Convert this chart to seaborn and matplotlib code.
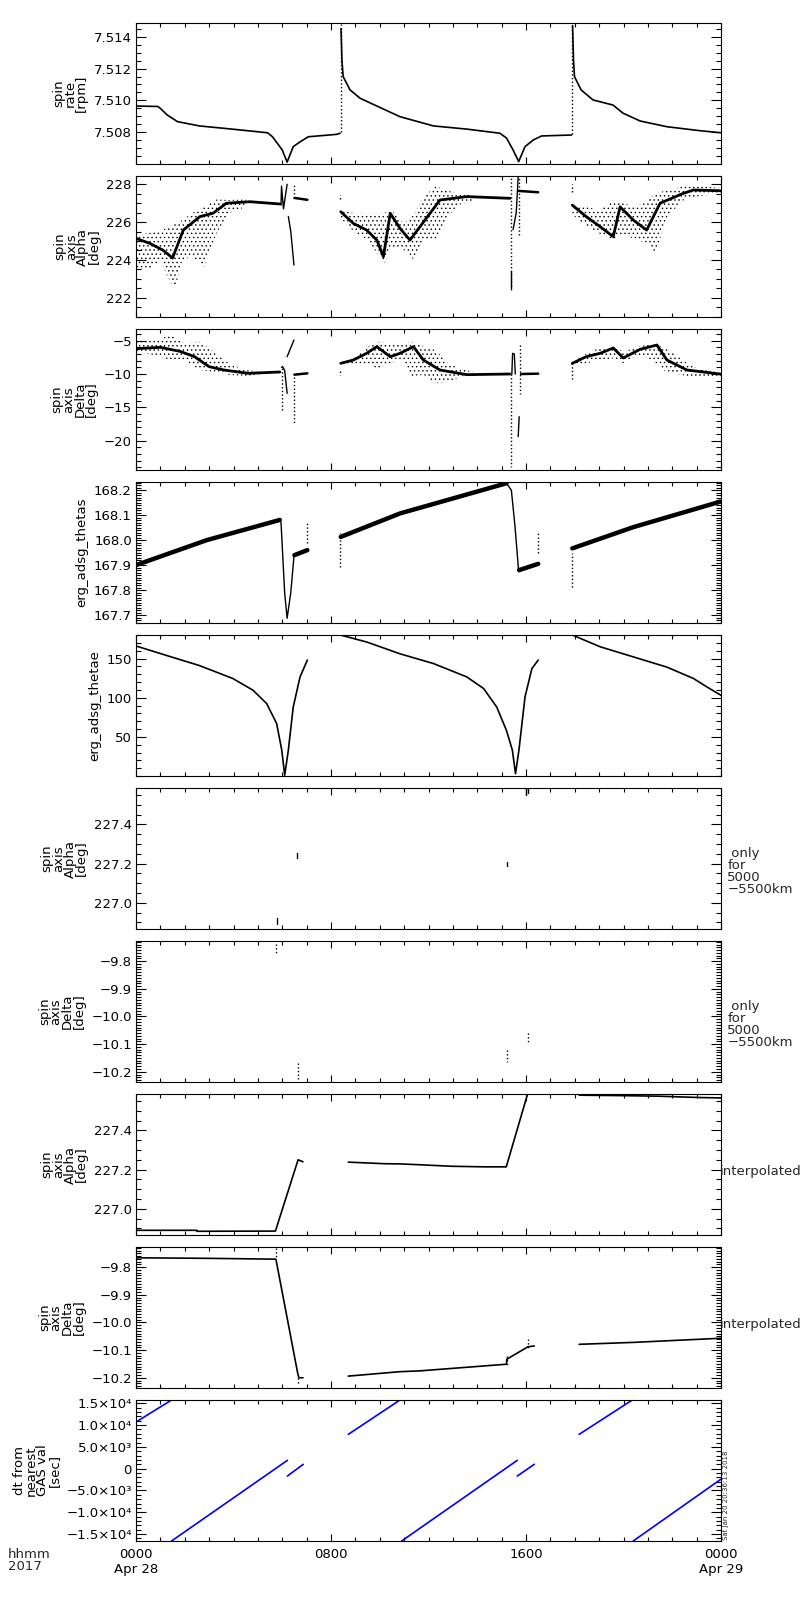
import numpy as np
import pandas as pd
import matplotlib
matplotlib.use("Agg")
import matplotlib.pyplot as plt
import matplotlib.ticker as mticker
import seaborn as sns

sns.set_theme(style="ticks")
plt.rcParams['font.family'] = ['DejaVu Sans']
plt.rcParams['axes.linewidth'] = 0.8
plt.rcParams['hatch.linewidth'] = 0.5

# ---------------- data (time in hours from 2017-04-28 00:00) ----------------
# Panel 1: spin rate [rpm]
rate_t1 = [0, 0.9, 1.0, 1.27, 1.7, 2.6, 4.0, 5.4, 5.6, 6.0, 6.2, 6.45, 6.73, 7.07, 8.23, 8.37]
rate_v1 = [7.50965, 7.50962, 7.5095, 7.5091, 7.50867, 7.5084, 7.50819, 7.50797, 7.50772, 7.50689,
           7.50613, 7.5071, 7.5074, 7.50772, 7.50787, 7.50794]
rate_t2 = [8.41, 8.45, 8.5, 8.78, 9.2, 9.88, 10.83, 12.2, 13.57, 14.93, 15.2, 15.47, 15.7,
           15.96, 16.3, 16.64, 17.46, 17.87]
rate_v2 = [7.5145, 7.5125, 7.51149, 7.51066, 7.51013, 7.50965, 7.50898, 7.5084, 7.5082,
           7.50794, 7.50764, 7.50689, 7.50616, 7.5071, 7.50752, 7.50777, 7.50781, 7.50783]
rate_t3 = [17.91, 17.95, 17.99, 18.26, 18.75, 19.57, 19.98, 20.68, 21.78, 23.14, 24.0]
rate_v3 = [7.5147, 7.5125, 7.51149, 7.51066, 7.51003, 7.50971, 7.5092, 7.50871, 7.50835,
           7.5081, 7.50797]
rate_spike_t = [8.39, 17.89]
rate_spike_lo = [7.5080, 7.5079]
rate_spike_hi = [7.5148, 7.5148]

# Panel 2: spin axis Alpha [deg]
alp_tA = [0, 0.56, 1.1, 1.5, 1.94, 2.62, 3.16, 3.71, 4.67, 5.9]
alp_vA = [225.14, 224.88, 224.52, 224.1, 225.58, 226.29, 226.47, 227.0, 227.08, 226.96]
alp_tB = [8.4, 8.92, 9.46, 9.88, 10.15, 10.43, 10.83, 11.24, 12.47, 13.57, 15.34]
alp_vB = [226.55, 225.93, 225.58, 225.05, 224.17, 226.47, 225.67, 225.05, 227.17, 227.35, 227.26]
alp_tC = [17.9, 18.47, 19.04, 19.58, 19.86, 20.4, 20.95, 21.5, 22.45, 22.87, 23.96]
alp_vC = [226.9, 226.29, 225.76, 225.23, 226.81, 226.11, 225.58, 227.0, 227.52, 227.7, 227.66]
alp_flat_t = [[6.5, 7.03], [15.7, 16.5]]
alp_flat_v = [[227.28, 227.18], [227.65, 227.58]]
alp_thin_t = [[5.95, 5.97, 6.05, 6.2], [6.25, 6.35, 6.48], [15.40, 15.40], [15.47, 15.6, 15.68]]
alp_thin_v = [[226.9, 227.9, 226.7, 228.0], [226.3, 225.5, 223.73], [222.5, 223.4], [225.6, 226.5, 228.4]]
alp_dot_t = [[6.48, 6.48], [8.38, 8.38], [15.40, 15.40], [15.72, 15.72], [17.87, 17.87]]
alp_dot_v = [[227.5, 228.05], [227.2, 227.45], [222.4, 228.4], [225.3, 228.4], [227.6, 228.0]]
# scatter clouds (envelopes)
alp_cA_t = [0, 0.5, 1.0, 1.3, 1.6, 1.9, 2.3, 2.8, 3.3, 3.8, 4.5]
alp_cA_hi = [225.35, 225.4, 225.58, 225.7, 225.9, 226.11, 226.47, 226.81, 227.2, 227.17, 227.2]
alp_cA_lo = [223.64, 223.47, 223.94, 223.1, 222.44, 224.0, 224.17, 223.64, 225.4, 226.47, 226.8]
alp_cB_t = [8.4, 9.0, 9.5, 10.0, 10.2, 10.5, 11.0, 11.4, 11.8, 12.3, 12.7, 13.2, 13.8]
alp_cB_hi = [226.6, 226.47, 226.47, 226.47, 226.5, 226.6, 225.93, 226.4, 227.35, 227.9, 227.7, 227.5, 227.4]
alp_cB_lo = [226.2, 225.4, 225.05, 224.17, 223.8, 224.7, 224.52, 224.0, 225.05, 225.05, 226.1, 226.9, 227.1]
alp_cC_t = [17.9, 18.5, 19.0, 19.6, 20.0, 20.5, 21.0, 21.3, 21.8, 22.5, 23.2, 24.0]
alp_cC_hi = [226.9, 226.8, 226.64, 227.17, 227.0, 226.8, 227.17, 227.5, 227.7, 227.9, 227.9, 227.8]
alp_cC_lo = [226.4, 225.76, 225.4, 225.05, 225.4, 225.05, 224.9, 224.34, 226.3, 227.2, 227.4, 227.5]

# Panel 3: spin axis Delta [deg]
del_tA = [0, 1.0, 1.8, 2.4, 3.0, 3.6, 4.2, 4.6, 5.9]
del_vA = [-6.2, -6.0, -6.6, -7.4, -8.9, -9.4, -9.7, -9.9, -9.7]
del_tB = [8.4, 8.92, 9.46, 9.88, 10.43, 10.83, 11.38, 11.79, 12.47, 13.57, 15.34]
del_vB = [-8.4, -7.9, -6.9, -5.9, -7.4, -6.9, -5.9, -7.9, -9.4, -10.1, -10.0]
del_tC = [17.9, 18.47, 19.04, 19.58, 19.99, 20.68, 21.37, 21.78, 22.6, 23.96]
del_vC = [-8.4, -7.4, -6.9, -6.1, -7.6, -6.3, -5.65, -7.9, -9.4, -10.0]
del_flat_t = [[6.5, 7.03], [15.8, 16.5]]
del_flat_v = [[-10.1, -9.9], [-10.0, -9.95]]
del_thin_t = [[5.97, 6.02, 6.1, 6.2], [6.2, 6.48], [15.42, 15.45, 15.52, 15.56], [15.68, 15.72]]
del_thin_v = [[-9.0, -8.9, -9.5, -12.9], [-7.4, -4.9], [-10.0, -6.9, -7.0, -10.0], [-19.4, -16.4]]
del_dot_t = [[5.97, 5.97], [6.48, 6.48], [8.38, 8.38], [15.38, 15.38], [15.76, 15.76], [17.87, 17.87]]
del_dot_v = [[-15.4, -8.9], [-10.4, -17.4], [-9.6, -10.2], [-10.0, -23.9], [-5.7, -13.0], [-8.4, -10.8]]
del_cA_t = [0, 0.8, 1.4, 2.0, 2.6, 3.2, 3.8, 4.5, 5.2]
del_cA_hi = [-4.8, -5.0, -4.15, -5.4, -5.15, -6.65, -8.4, -9.4, -9.7]
del_cA_lo = [-6.65, -7.2, -7.9, -7.9, -9.4, -9.65, -10.15, -10.3, -10.0]
del_cB_t = [8.4, 9.0, 9.5, 9.9, 10.4, 10.9, 11.3, 11.8, 12.3, 12.8, 13.3, 14.0]
del_cB_hi = [-8.2, -7.5, -5.9, -5.15, -5.4, -5.65, -5.15, -5.9, -6.4, -8.4, -9.2, -9.8]
del_cB_lo = [-8.8, -8.5, -8.4, -9.2, -8.4, -7.9, -10.3, -10.15, -11.4, -11.2, -10.5, -10.2]
del_cC_t = [17.9, 18.5, 19.0, 19.6, 20.0, 20.6, 21.2, 21.6, 22.1, 22.7, 23.3, 24.0]
del_cC_hi = [-8.2, -6.9, -6.1, -5.9, -6.65, -5.9, -5.4, -5.9, -6.9, -8.65, -9.4, -9.8]
del_cC_lo = [-8.7, -8.4, -7.9, -7.65, -8.4, -7.15, -7.9, -9.4, -9.9, -10.4, -10.4, -10.3]

# Panel 4: erg_adsg_thetas
ths_band_t = [[0, 2.9, 5.9], [6.5, 7.03], [8.4, 10.83, 15.2], [15.72, 16.5], [17.9, 20.4, 23.96]]
ths_band_v = [[167.9, 168.0, 168.081], [167.94, 167.96], [168.013, 168.107, 168.228],
              [167.88, 167.905], [167.967, 168.052, 168.154]]
ths_thin_t = [[5.9, 5.95, 6.1, 6.2, 6.35, 6.48], [15.2, 15.4, 15.55, 15.7]]
ths_thin_v = [[168.08, 168.07, 167.787, 167.687, 167.79, 167.934], [168.228, 168.2, 168.054, 167.873]]
ths_dot_t = [[7.03, 7.03], [8.38, 8.38], [16.5, 16.5], [17.87, 17.87]]
ths_dot_v = [[167.987, 168.074], [167.894, 168.028], [167.947, 168.034], [167.813, 167.947]]

# Panel 5: erg_adsg_thetae
the_t = [[0, 1.24, 2.6, 3.97, 4.8, 5.36, 5.77, 5.98, 6.1, 6.25, 6.45, 6.73, 7.03],
         [8.38, 9.47, 10.83, 12.2, 13.57, 14.26, 14.8, 15.2, 15.44, 15.57, 15.71, 15.96, 16.24, 16.5],
         [17.9, 19.04, 20.41, 21.78, 22.87, 23.42, 24.0]]
the_v = [[166, 154, 141, 124.5, 109.5, 92.5, 67, 33, 1, 33, 88, 126.5, 148],
         [180, 171, 156, 143.6, 126.5, 111.7, 88, 58, 33, 3, 33, 101, 137, 148],
         [180, 165, 152, 139, 124.5, 113.7, 103]]

# Panel 6: Alpha only for 5000-5500 km
a55_t = [[5.77, 5.77], [6.62, 6.62], [15.2, 15.2], [16.0, 16.0], [16.1, 16.1]]
a55_v = [[226.89, 226.92], [227.23, 227.255], [227.19, 227.21], [227.55, 227.586], [227.56, 227.586]]

# Panel 7: Delta only for 5000-5500 km
d55_t = [[5.74, 5.74], [6.66, 6.66], [15.2, 15.2], [16.1, 16.1]]
d55_v = [[-9.737, -9.779], [-10.17, -10.225], [-10.12, -10.164], [-10.06, -10.1]]

# Panel 8: Alpha interpolated
ai_t = [[0, 2.49, 2.5, 5.72, 6.65, 6.85],
        [8.71, 10.21, 10.83, 11.58, 12.94, 14.3, 15.19, 16.07],
        [18.18, 19.7, 21.4, 23.1, 24.0]]
ai_v = [[226.89, 226.89, 226.885, 226.886, 227.25, 227.24],
        [227.238, 227.23, 227.229, 227.225, 227.217, 227.214, 227.214, 227.588],
        [227.58, 227.578, 227.575, 227.568, 227.566]]

# Panel 9: Delta interpolated
di_t = [[0, 2.96, 5.74, 6.63, 6.68, 6.85],
        [8.71, 10.83, 11.65, 15.2, 15.21, 16.08, 16.34],
        [18.18, 20.41, 24.0]]
di_v = [[-9.766, -9.768, -9.771, -10.182, -10.2, -10.2],
        [-10.194, -10.178, -10.175, -10.151, -10.133, -10.088, -10.085],
        [-10.079, -10.072, -10.057]]
di_dot_t = [[5.74, 5.74], [6.66, 6.66], [15.2, 15.2], [16.07, 16.07]]
di_dot_v = [[-9.73, -9.77], [-10.2, -10.225], [-10.12, -10.16], [-10.06, -10.1]]

# Panel 10: dt from nearest GAS val [sec]
dt_t = [[0, 1.46], [1.46, 6.21], [6.21, 6.86], [8.71, 10.83], [10.9, 15.64],
        [15.64, 16.34], [18.18, 20.36], [20.4, 23.99]]
dt_v = [[10700, 15760], [-16600, 1900], [-1700, 990], [7870, 15760], [-16600, 1900],
        [-1700, 1000], [7870, 15760], [-16600, -2450]]

# axis settings
ylabels = ["spin\nrate\n[rpm]", "spin\naxis\nAlpha\n[deg]", "spin\naxis\nDelta\n[deg]",
           "erg_adsg_thetas", "erg_adsg_thetae", "spin\naxis\nAlpha\n[deg]",
           "spin\naxis\nDelta\n[deg]", "spin\naxis\nAlpha\n[deg]", "spin\naxis\nDelta\n[deg]",
           "dt from\nnearest\nGAS val\n[sec]"]
ylims = [(7.50601, 7.51486), (220.98, 228.44), (-24.4, -3.25), (167.668, 168.233), (0, 180),
         (226.866, 227.586), (-10.237, -9.727), (226.866, 227.586), (-10.237, -9.727),
         (-16607, 15757)]
ymajor = [[7.508, 7.510, 7.512, 7.514], [222, 224, 226, 228], [-20, -15, -10, -5],
          [167.7, 167.8, 167.9, 168.0, 168.1, 168.2], [50, 100, 150],
          [227.0, 227.2, 227.4], [-10.2, -10.1, -10.0, -9.9, -9.8],
          [227.0, 227.2, 227.4], [-10.2, -10.1, -10.0, -9.9, -9.8],
          [-15000, -10000, -5000, 0, 5000, 10000, 15000]]
yminor = [0.0005, 0.5, 1.0, 0.01, 10, 0.05, 0.01, 0.05, 0.01, 1000]
yfmt = ["{:.3f}", "{:.0f}", "{:.0f}", "{:.1f}", "{:.0f}", "{:.1f}", "{:.1f}", "{:.1f}", "{:.1f}", None]
dt_labels = ["\u22121.5\u00d710\u2074", "\u22121.0\u00d710\u2074", "\u22125.0\u00d710\u00b3", "0",
             "5.0\u00d710\u00b3", "1.0\u00d710\u2074", "1.5\u00d710\u2074"]
right_notes = [None, None, None, None, None, " only\nfor\n5000\n\u22125500km",
               " only\nfor\n5000\n\u22125500km", "interpolated", "interpolated", None]
xtick_pos = [0, 8, 16, 24]
xtick_lab = ["0000\nApr 28", "0800", "1600", "0000\nApr 29"]


def segs_df(ts, vs):
    rows = []
    for i, (t, v) in enumerate(zip(ts, vs)):
        for a, b in zip(t, v):
            rows.append((i, a, b))
    return pd.DataFrame(rows, columns=["seg", "t", "v"])


def draw(ax, ts, vs, color="black", lw=1.0, ls="-"):
    df = segs_df(ts, vs)
    sns.lineplot(data=df, x="t", y="v", units="seg", estimator=None, sort=False,
                 color=color, linewidth=lw, linestyle=ls, ax=ax, legend=False)


def cloud(ax, t, lo, hi):
    ax.fill_between(t, lo, hi, facecolor="none", edgecolor="black", hatch="....",
                    linewidth=0)


W, H = 800, 1600
fig = plt.figure(figsize=(8, 16), dpi=100)
axes = []
for k in range(10):
    top = 23 + 153 * k
    ax = fig.add_axes([136 / W, (H - top - 141) / H, 585 / W, 141 / H])
    axes.append(ax)

# draw data
ax = axes[0]
draw(ax, [rate_t1, rate_t2, rate_t3], [rate_v1, rate_v2, rate_v3], lw=1.2)
draw(ax, [[t, t] for t in rate_spike_t], [[a, b] for a, b in zip(rate_spike_lo, rate_spike_hi)],
     lw=1.0, ls=":")

ax = axes[1]
cloud(ax, alp_cA_t, alp_cA_lo, alp_cA_hi)
cloud(ax, alp_cB_t, alp_cB_lo, alp_cB_hi)
cloud(ax, alp_cC_t, alp_cC_lo, alp_cC_hi)
draw(ax, [alp_tA, alp_tB, alp_tC], [alp_vA, alp_vB, alp_vC], lw=2.0)
draw(ax, alp_flat_t, alp_flat_v, lw=1.8)
draw(ax, alp_thin_t, alp_thin_v, lw=1.0)
draw(ax, alp_dot_t, alp_dot_v, lw=1.0, ls=":")

ax = axes[2]
cloud(ax, del_cA_t, del_cA_lo, del_cA_hi)
cloud(ax, del_cB_t, del_cB_lo, del_cB_hi)
cloud(ax, del_cC_t, del_cC_lo, del_cC_hi)
draw(ax, [del_tA, del_tB, del_tC], [del_vA, del_vB, del_vC], lw=2.0)
draw(ax, del_flat_t, del_flat_v, lw=1.8)
draw(ax, del_thin_t, del_thin_v, lw=1.0)
draw(ax, del_dot_t, del_dot_v, lw=1.0, ls=":")

ax = axes[3]
draw(ax, ths_band_t, ths_band_v, lw=3.2)
draw(ax, ths_thin_t, ths_thin_v, lw=1.0)
draw(ax, ths_dot_t, ths_dot_v, lw=1.0, ls=":")

ax = axes[4]
draw(ax, the_t, the_v, lw=1.2)

ax = axes[5]
draw(ax, a55_t, a55_v, lw=1.0)

ax = axes[6]
draw(ax, d55_t, d55_v, lw=1.0, ls=":")

ax = axes[7]
draw(ax, ai_t, ai_v, lw=1.2)

ax = axes[8]
draw(ax, di_t, di_v, lw=1.2)
draw(ax, di_dot_t, di_dot_v, lw=1.0, ls=":")

ax = axes[9]
draw(ax, dt_t, dt_v, color="#0000ff", lw=1.2)

# axes styling
for k, ax in enumerate(axes):
    ax.set_xlim(0, 24)
    ax.set_ylim(*ylims[k])
    ax.set_xticks(xtick_pos)
    ax.xaxis.set_minor_locator(mticker.MultipleLocator(1))
    ax.set_yticks(ymajor[k])
    ax.yaxis.set_minor_locator(mticker.MultipleLocator(yminor[k]))
    if yfmt[k] is None:
        ax.set_yticklabels(dt_labels)
    else:
        f = yfmt[k]
        ax.set_yticklabels([f.format(v).replace("-", "\u2212") for v in ymajor[k]])
    if k == 9:
        ax.set_xticklabels(xtick_lab)
    else:
        ax.set_xticklabels([])
    ax.tick_params(axis="both", which="both", direction="in", top=True, right=True,
                   colors="black", labelsize=9.5, width=0.8)
    ax.tick_params(axis="y", which="major", length=7.2, pad=3)
    ax.tick_params(axis="y", which="minor", length=3.6)
    ax.tick_params(axis="x", which="major", length=5, pad=5)
    ax.tick_params(axis="x", which="minor", length=2.8)
    for s in ax.spines.values():
        s.set_visible(True)
        s.set_color("black")
        s.set_linewidth(0.8)
    ax.set_xlabel("")
    ax.set_ylabel(ylabels[k], fontsize=9.5, linespacing=0.85, labelpad=4,
                  multialignment="center", color="black")
    ax.grid(False)
    if right_notes[k] is not None:
        if right_notes[k].startswith(" only"):
            ax.text(1.011, 0.405, right_notes[k], transform=ax.transAxes, ha="left",
                    va="center", fontsize=9.5, linespacing=0.9)
        else:
            ax.text(0.998, 0.45, right_notes[k], transform=ax.transAxes, ha="left",
                    va="center", fontsize=9.5)

axes[9].text(1.004, 0.01, "Sat Jan 20 20:36:13 2018", transform=axes[9].transAxes,
             rotation=90, fontsize=5, ha="left", va="bottom")
fig.text(8 / W, 1 - 1548 / H, "hhmm\n2017", ha="left", va="top", fontsize=9.5,
         linespacing=0.95)

fig.savefig("out.png", dpi=100, facecolor="white")
